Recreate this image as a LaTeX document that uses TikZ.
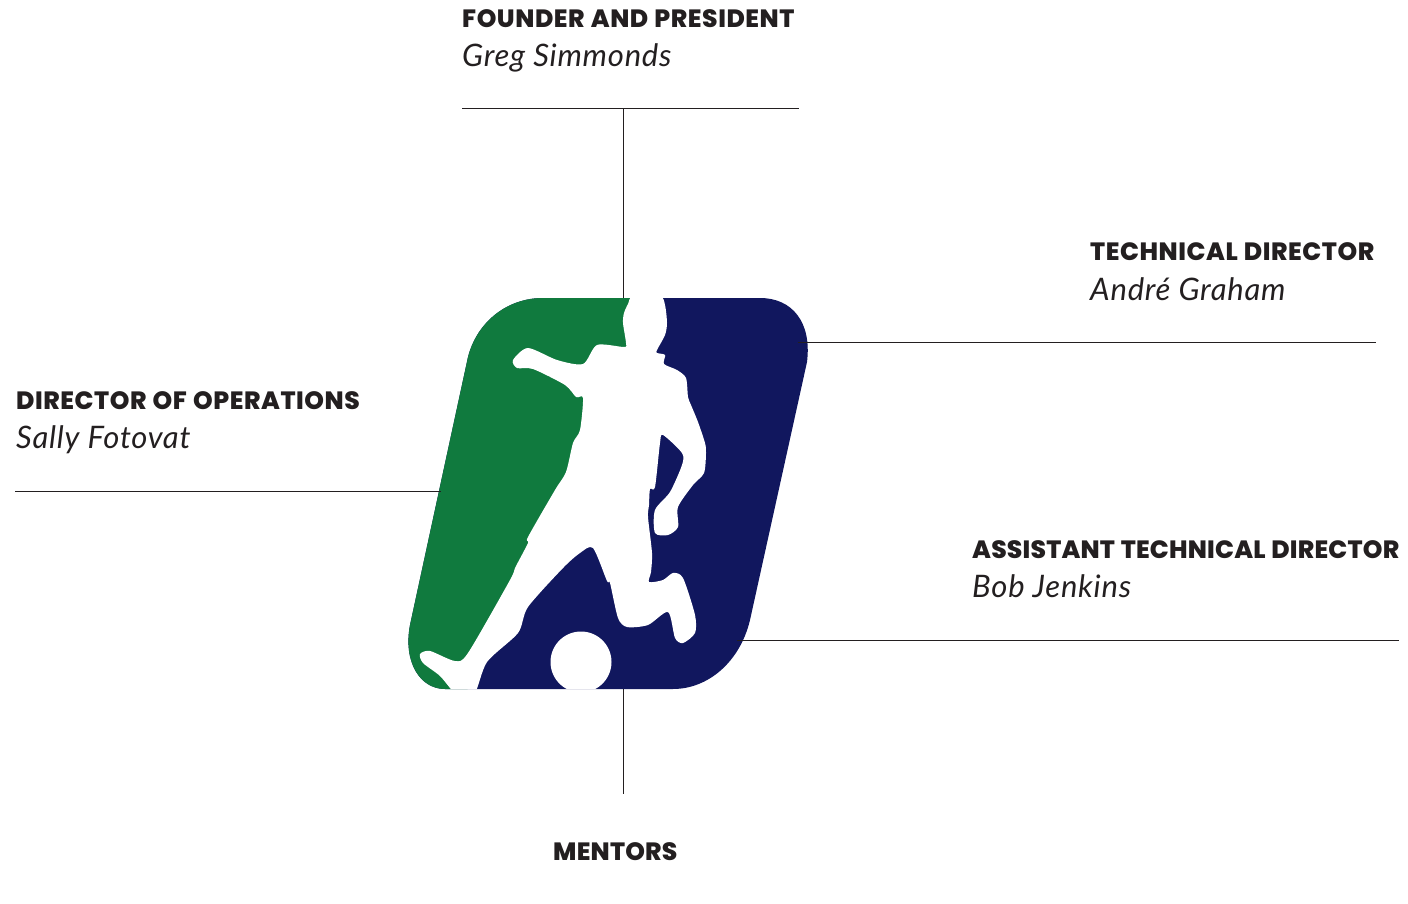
\documentclass[tikz,border=0pt]{standalone}
\usepackage{fontspec}
\newfontfamily\headfont{Poppins}[UprightFont=* ExtraBold,LetterSpace=0.8,WordSpace=1.15]
\newfontfamily\headwide{Poppins}[UprightFont=* ExtraBold,LetterSpace=2.2,WordSpace=1.15]
\newfontfamily\namefont{Lato}[UprightFont=* Italic,LetterSpace=2.5]
\definecolor{inkc}{HTML}{231F20}
\definecolor{greenc}{HTML}{107A3E}
\definecolor{navyc}{HTML}{11175E}
\tikzset{
  head/.style={anchor=base west,inner sep=0pt,text=inkc,font=\headfont\fontsize{25}{30}\selectfont},
  headw/.style={anchor=base west,inner sep=0pt,text=inkc,font=\headwide\fontsize{25}{30}\selectfont},
  person/.style={anchor=base west,inner sep=0pt,text=inkc,font=\namefont\fontsize{31}{36}\selectfont},
  rule/.style={draw=inkc,line width=1pt}
}
\def\logopath{(543,298) -- (760,298) .. controls (792,298) and (812,322) .. (807,362) -- (750,620) .. controls (740,662) and (708,689) .. (673,689) -- (445,689) .. controls (420,689) and (403,662) .. (410,625) -- (468,357) .. controls (477,322) and (507,298) .. (543,298) -- cycle}
\begin{document}
\begin{tikzpicture}[x=1pt,y=-1pt]
\useasboundingbox (0,0) rectangle (1408,904);
\fill[navyc] \logopath;
\begin{scope}
  \clip \logopath;
  \fill[greenc] (640,290) -- (630,400) -- (610,480) -- (570,530) -- (520,590) -- (490,640) -- (465,695) -- (380,695) -- (380,290) -- cycle;
  \fill[white] plot[smooth cycle,tension=0.45] coordinates {
    (633,296) (660,296) (665,305) (667,323) (665,335) (657,350) (657,353) (665,355) (664,364)
    (677,370) (686,378) (688,397) (691,405) (698,422) (705,443) (706,453) (704,473) (693,485)
    (678,507) (678,527) (668,535) (655,533) (655,510) (670,492) (682,465) (682,453) (663,435)
    (660,443) (655,487) (650,489) (649,505) (648,517) (652,553) (651,572) (649,582) (663,580)
    (673,573) (683,578) (695,615) (695,633) (683,643) (675,638) (668,612) (648,625) (627,627)
    (618,618) (610,583) (607,581) (593,548) (580,553) (563,568) (528,607) (518,633) (487,662)
    (474,695) (457,695) (440,676) (423,663) (420,654) (430,651) (455,661) (468,653) (510,580)
    (515,568) (528,543) (528,537) (555,490) (566,472) (573,443) (580,430) (583,398) (576,397)
    (565,385) (533,369) (517,368) (513,360) (528,348) (557,360) (583,364) (597,345) (624,347)
    (626,343) (623,323) (624,313) (628,304)};
  \fill[white] (581,662) circle (30.5);
\end{scope}
\coordinate (fl) at (462,108.5); \coordinate (fr) at (799,108.5);
\coordinate (fj) at (623,108.5); \coordinate (lt) at (623,298);
\coordinate (lb) at (623,689); \coordinate (me) at (623,794);
\coordinate (ta) at (798,342.5); \coordinate (tb) at (1376,342.5);
\coordinate (oa) at (15,491); \coordinate (ob) at (441,491);
\coordinate (aa) at (737,640); \coordinate (ab) at (1399,640);
\draw[rule] (fl) -- (fr);
\draw[rule] (fj) -- (lt);
\draw[rule] (lb) -- (me);
\draw[rule] (ta) -- (tb);
\draw[rule] (oa) -- (ob);
\draw[rule] (aa) -- (ab);
\node[headw] (n1) at (462,28) {FOUNDER AND PRESIDENT};
\node[person] (p1) at (462,67) {Greg Simmonds};
\node[headw] (n2) at (1090,260) {TECHNICAL DIRECTOR};
\node[person] (p2) at (1090,300) {André Graham};
\node[headw] (n3) at (16,409) {DIRECTOR OF OPERATIONS};
\node[person] (p3) at (16,448) {Sally Fotovat};
\node[head] (n4) at (972,558) {ASSISTANT TECHNICAL DIRECTOR};
\node[person] (p4) at (972,597) {Bob Jenkins};
\node[head] (n5) at (553,860) {MENTORS};
\end{tikzpicture}
\end{document}
